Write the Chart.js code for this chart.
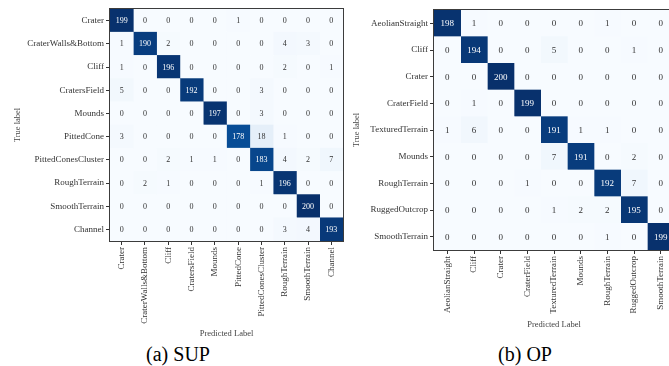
<!DOCTYPE html>
<html>
<head>
<meta charset="utf-8">
<script src="https://cdn.jsdelivr.net/npm/chart.js@4/dist/chart.umd.min.js"></script>
<style>
  html, body { margin: 0; padding: 0; background: #fff; overflow: hidden; width: 669px; height: 366px; position: relative; }
  .panel { position: absolute; top: 0; }
  .cap { position: absolute; font-family: "Liberation Serif", "Times New Roman", serif; font-size: 20px; color: #000; white-space: nowrap; transform: translateX(-50%); line-height: 1; }
</style>
</head>
<body>
<div class="panel" style="left:0px"><canvas id="supChart" width="345" height="339"></canvas></div>
<div class="panel" style="left:335px"><canvas id="opChart" width="340" height="330"></canvas></div>
<div class="cap" style="left:178px; top:344px">(a) SUP</div>
<div class="cap" style="left:525px; top:344px">(b) OP</div>
<script>
// Class names for the supervised (SUP) model
const supLabels = ['Crater', 'CraterWalls&Bottom', 'Cliff', 'CratersField', 'Mounds',
  'PittedCone', 'PittedConesCluster', 'RoughTerrain', 'SmoothTerrain', 'Channel'];

// Rows: true label, columns: predicted label
const supMatrix = [
  [199, 0, 0, 0, 0, 1, 0, 0, 0, 0],
  [1, 190, 2, 0, 0, 0, 0, 4, 3, 0],
  [1, 0, 196, 0, 0, 0, 0, 2, 0, 1],
  [5, 0, 0, 192, 0, 0, 3, 0, 0, 0],
  [0, 0, 0, 0, 197, 0, 3, 0, 0, 0],
  [3, 0, 0, 0, 0, 178, 18, 1, 0, 0],
  [0, 0, 2, 1, 1, 0, 183, 4, 2, 7],
  [0, 2, 1, 0, 0, 0, 1, 196, 0, 0],
  [0, 0, 0, 0, 0, 0, 0, 0, 200, 0],
  [0, 0, 0, 0, 0, 0, 0, 3, 4, 193]
];

// Class names for the OP model
const opLabels = ['AeolianStraight', 'Cliff', 'Crater', 'CraterField', 'TexturedTerrain',
  'Mounds', 'RoughTerrain', 'RuggedOutcrop', 'SmoothTerrain'];

const opMatrix = [
  [198, 1, 0, 0, 0, 0, 1, 0, 0],
  [0, 194, 0, 0, 5, 0, 0, 1, 0],
  [0, 0, 200, 0, 0, 0, 0, 0, 0],
  [0, 1, 0, 199, 0, 0, 0, 0, 0],
  [1, 6, 0, 0, 191, 1, 1, 0, 0],
  [0, 0, 0, 0, 7, 191, 0, 2, 0],
  [0, 0, 0, 1, 0, 0, 192, 7, 0],
  [0, 0, 0, 0, 1, 2, 2, 195, 0],
  [0, 0, 0, 0, 0, 0, 1, 0, 199]
];

// Sequential "Blues" colour ramp
const BLUES = ['#f7fbff', '#deebf7', '#c6dbef', '#9ecae1', '#6baed6', '#4292c6', '#2171b5', '#08519c', '#08306b'];
function hexRgb(h) { return [1, 3, 5].map(k => parseInt(h.slice(k, k + 2), 16)); }
function blues(t) {
  t = Math.max(0, Math.min(1, t));
  const pos = t * (BLUES.length - 1);
  const i = Math.min(Math.floor(pos), BLUES.length - 2);
  const f = pos - i;
  const a = hexRgb(BLUES[i]), b = hexRgb(BLUES[i + 1]);
  const c = a.map((v, k) => Math.round(v + (b[k] - v) * f));
  return `rgb(${c[0]},${c[1]},${c[2]})`;
}

const SERIF = '"Liberation Serif", "Times New Roman", serif';
const INK = '#333';

function drawMatrix(canvasId, labels, matrix, cfg) {
  const vmax = Math.max(...matrix.flat());
  const vmin = Math.min(...matrix.flat());
  const thresh = (vmax + vmin) / 2;

  // one stacked dataset per predicted class; each row segment is one cell
  const datasets = labels.map((pred, j) => ({
    label: pred,
    data: matrix.map(() => 1),
    backgroundColor: matrix.map(row => blues((row[j] - vmin) / (vmax - vmin))),
    borderWidth: 0,
    barPercentage: 1,
    categoryPercentage: 1,
    xAxisID: 'x',
    yAxisID: 'y'
  }));

  const cellText = {
    id: 'cellText',
    afterDatasetsDraw(chart) {
      const ctx = chart.ctx;
      const area = chart.chartArea;
      ctx.save();
      ctx.font = `${cfg.cellFont}px ${SERIF}`;
      ctx.textAlign = 'center';
      ctx.textBaseline = 'middle';
      chart.data.datasets.forEach((ds, j) => {
        chart.getDatasetMeta(j).data.forEach((bar, i) => {
          const v = matrix[i][j];
          ctx.fillStyle = v > thresh ? '#ffffff' : INK;
          ctx.fillText(String(v), (bar.x + bar.base) / 2, bar.y + 0.5);
        });
      });
      // frame round the matrix
      ctx.strokeStyle = '#3c3c3c';
      ctx.lineWidth = 1;
      ctx.strokeRect(Math.round(area.left) - 0.5, Math.round(area.top) - 0.5,
        Math.round(area.right - area.left) + 1, Math.round(area.bottom - area.top) + 1);
      ctx.restore();
    }
  };

  const tickFont = { family: SERIF, size: 9 };
  const titleFont = { family: SERIF, size: 8.5 };

  return new Chart(document.getElementById(canvasId), {
    type: 'bar',
    data: { labels: labels, datasets: datasets },
    options: {
      indexAxis: 'y',
      responsive: false,
      animation: false,
      events: [],
      layout: { padding: cfg.padding },
      plugins: { legend: { display: false }, tooltip: { enabled: false } },
      scales: {
        x: { type: 'linear', display: false, stacked: true, min: 0, max: labels.length },
        xl: {
          type: 'category',
          position: 'bottom',
          labels: labels,
          offset: true,
          grid: { offset: false, drawOnChartArea: false, drawTicks: true, tickLength: 4, color: INK, lineWidth: 1 },
          border: { display: false },
          ticks: { autoSkip: false, minRotation: 90, maxRotation: 90, padding: 2, color: INK, font: tickFont },
          title: { display: true, text: 'Predicted Label', color: '#444', font: titleFont, padding: { top: 0, bottom: 0 } },
          afterFit(s) { s.height = cfg.xHeight; }
        },
        y: {
          type: 'category',
          stacked: true,
          offset: true,
          grid: { offset: false, drawOnChartArea: false, drawTicks: true, tickLength: 4, color: INK, lineWidth: 1 },
          border: { display: false },
          ticks: { autoSkip: false, padding: 2, color: INK, font: tickFont },
          title: { display: true, text: 'True label', color: '#444', font: titleFont, padding: { top: cfg.yTitlePad, bottom: 0 } },
          afterFit(s) { s.width = cfg.yWidth; }
        }
      }
    },
    plugins: [cellText]
  });
}

drawMatrix('supChart', supLabels, supMatrix, {
  padding: { top: 9, right: 2, left: 0, bottom: 0 },
  yWidth: 110, xHeight: 98, yTitlePad: 13, cellFont: 8
});

drawMatrix('opChart', opLabels, opMatrix, {
  padding: { top: 10, right: 1, left: 0, bottom: 0 },
  yWidth: 99, xHeight: 80, yTitlePad: 17, cellFont: 9
});
</script>
</body>
</html>
